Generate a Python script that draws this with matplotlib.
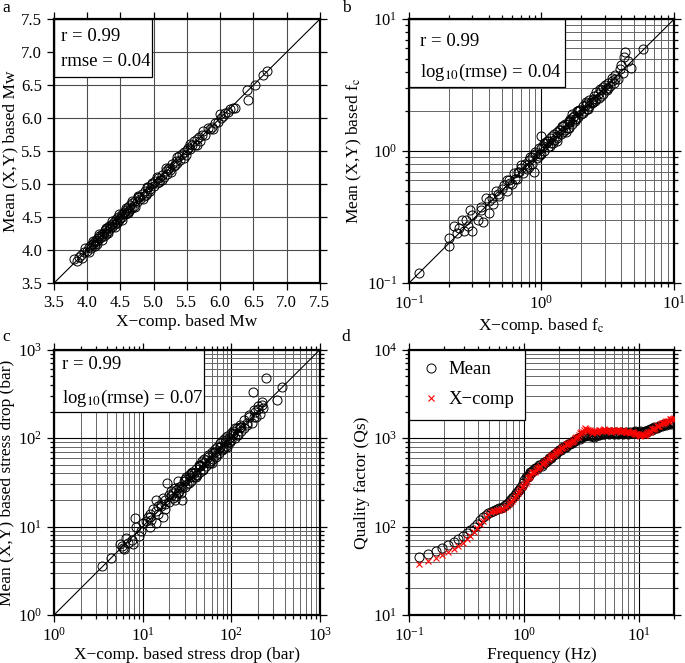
import matplotlib
matplotlib.use("Agg")
import matplotlib.pyplot as plt
from matplotlib.patches import Rectangle
from matplotlib.ticker import MultipleLocator, LogLocator, NullFormatter

plt.rcParams['font.family'] = ['Liberation Serif', 'DejaVu Serif']
plt.rcParams['mathtext.fontset'] = 'stix'

# (a) moment magnitude: X-comp vs mean(X,Y)
mw_x = [3.80, 3.85, 3.88, 3.90, 3.95, 3.97, 4.00, 4.02, 4.05, 4.08,
        4.10, 4.12, 4.13, 4.15, 4.17, 4.18, 4.20, 4.22, 4.23, 4.25,
        4.27, 4.28, 4.30, 4.32, 4.33, 4.35, 4.37, 4.38, 4.40, 4.42,
        4.43, 4.45, 4.47, 4.48, 4.50, 4.52, 4.53, 4.55, 4.57, 4.58,
        4.60, 4.62, 4.63, 4.65, 4.67, 4.68, 4.70, 4.72, 4.75, 4.77,
        4.80, 4.82, 4.85, 4.87, 4.90, 4.92, 4.95, 4.97, 5.00, 5.02,
        5.05, 5.07, 5.10, 5.12, 5.15, 5.18, 5.20, 5.23, 5.25, 5.28,
        5.30, 5.33, 5.35, 5.38, 5.40, 5.45, 5.48, 5.50, 5.55, 5.58,
        5.62, 5.65, 5.70, 5.73, 5.78, 5.82, 5.88, 5.92, 5.97, 6.02,
        6.05, 6.08, 6.12, 6.20, 6.22, 6.40, 6.42, 6.52, 6.65, 6.70,
        3.92, 4.05, 4.15, 4.25, 4.35, 4.45, 4.55, 4.65, 4.78, 4.88,
        4.98, 5.08, 5.22, 5.32, 5.42, 5.52, 5.60, 5.68, 5.85, 6.15,
        4.02, 4.08, 4.12, 4.18, 4.22, 4.28, 4.32, 4.38, 4.42, 4.48,
        4.52, 4.58, 4.62, 4.68, 4.72, 4.76, 4.84, 4.90, 4.95, 5.05,
        5.12, 5.18, 5.26, 5.35, 5.45, 5.55, 5.66, 5.75, 5.90, 6.00]
mw_y = [3.86, 3.84, 3.90, 3.93, 3.97, 4.03, 3.98, 4.05, 4.03, 4.10,
        4.12, 4.09, 4.16, 4.14, 4.19, 4.22, 4.18, 4.25, 4.21, 4.26,
        4.30, 4.25, 4.33, 4.29, 4.36, 4.33, 4.40, 4.35, 4.43, 4.39,
        4.47, 4.42, 4.50, 4.46, 4.48, 4.55, 4.50, 4.58, 4.54, 4.61,
        4.57, 4.65, 4.60, 4.68, 4.64, 4.71, 4.67, 4.75, 4.73, 4.80,
        4.77, 4.85, 4.82, 4.89, 4.87, 4.95, 4.92, 5.00, 4.97, 5.05,
        5.01, 5.09, 5.06, 5.14, 5.11, 5.20, 5.16, 5.25, 5.21, 5.31,
        5.27, 5.35, 5.32, 5.42, 5.37, 5.48, 5.44, 5.52, 5.53, 5.60,
        5.59, 5.68, 5.66, 5.75, 5.74, 5.85, 5.86, 5.92, 5.94, 6.00,
        6.04, 6.08, 6.10, 6.16, 6.15, 6.42, 6.28, 6.50, 6.65, 6.72,
        3.88, 4.07, 4.10, 4.22, 4.37, 4.41, 4.56, 4.62, 4.81, 4.84,
        5.02, 5.04, 5.23, 5.29, 5.45, 5.55, 5.65, 5.72, 5.83, 6.14,
        3.97, 4.14, 4.06, 4.24, 4.15, 4.34, 4.26, 4.44, 4.35, 4.54,
        4.46, 4.64, 4.56, 4.74, 4.66, 4.82, 4.78, 4.96, 4.89, 5.11,
        5.06, 5.24, 5.19, 5.41, 5.39, 5.61, 5.60, 5.81, 5.84, 6.06]

# (b) corner frequency
fc_x = [0.12, 0.20, 0.20, 0.22, 0.23, 0.25, 0.26, 0.28, 0.29, 0.30,
        0.30, 0.33, 0.35, 0.36, 0.38, 0.40, 0.40, 0.43, 0.45, 0.47,
        0.50, 0.52, 0.55, 0.57, 0.60, 0.62, 0.65, 0.68, 0.70, 0.72,
        0.75, 0.78, 0.80, 0.82, 0.85, 0.88, 0.90, 0.92, 0.95, 0.98,
        1.00, 1.00, 1.05, 1.08, 1.10, 1.12, 1.15, 1.18, 1.20, 1.25,
        1.30, 1.32, 1.35, 1.40, 1.45, 1.50, 1.55, 1.60, 1.65, 1.70,
        1.75, 1.80, 1.85, 1.90, 1.95, 2.00, 2.05, 2.10, 2.20, 2.25,
        2.30, 2.40, 2.50, 2.55, 2.60, 2.70, 2.80, 2.90, 3.00, 3.10,
        3.20, 3.30, 3.40, 3.50, 3.60, 3.80, 4.00, 4.10, 4.20, 4.30,
        4.50, 4.70, 5.80, 1.50, 1.60, 2.20, 1.30, 0.95, 1.70, 2.80,
        0.85, 1.02, 1.15, 1.25, 1.45, 1.65, 1.90, 2.15, 2.45, 2.75,
        0.58, 0.66, 0.78, 1.38, 1.58, 1.78, 2.35, 2.65, 3.05, 3.40,
        0.70, 0.80, 0.90, 1.00, 1.05, 1.12, 1.22, 1.30, 1.42, 1.52,
        1.62, 1.72, 1.82, 1.92, 2.05, 2.18, 2.30, 2.45, 2.60, 2.90,
        3.20, 3.60, 3.90, 0.48, 0.42, 0.35, 0.27, 0.24, 0.55, 0.63]
fc_y = [0.12, 0.19, 0.22, 0.27, 0.24, 0.30, 0.25, 0.27, 0.36, 0.25,
        0.33, 0.30, 0.38, 0.29, 0.44, 0.42, 0.34, 0.40, 0.50, 0.47,
        0.52, 0.55, 0.50, 0.60, 0.56, 0.68, 0.62, 0.70, 0.75, 0.68,
        0.80, 0.73, 0.85, 0.90, 0.80, 0.70, 0.95, 0.88, 1.05, 0.95,
        1.30, 1.05, 1.00, 1.15, 1.20, 1.08, 1.25, 1.15, 1.30, 1.22,
        1.40, 1.25, 1.45, 1.35, 1.55, 1.45, 1.60, 1.50, 1.75, 1.60,
        1.85, 1.70, 2.00, 1.80, 2.05, 1.90, 2.20, 2.00, 2.30, 2.10,
        2.45, 2.30, 2.60, 2.40, 2.80, 2.55, 2.90, 2.70, 3.20, 2.90,
        3.30, 3.10, 3.60, 3.30, 3.80, 3.50, 4.50, 3.90, 5.20, 5.60,
        4.80, 4.30, 5.90, 1.60, 1.70, 2.10, 1.20, 0.92, 1.90, 2.60,
        0.90, 1.10, 1.10, 1.35, 1.40, 1.70, 2.00, 2.25, 2.35, 2.95,
        0.57, 0.70, 0.78, 1.45, 1.50, 1.75, 2.35, 2.70, 2.95, 3.40,
        0.78, 0.76, 0.98, 0.96, 1.15, 1.20, 1.15, 1.30, 1.55, 1.40,
        1.65, 1.80, 1.75, 2.05, 1.95, 2.35, 2.20, 2.50, 2.50, 3.05,
        3.00, 3.55, 4.20, 0.46, 0.44, 0.36, 0.30, 0.26, 0.60, 0.62]

# (c) stress drop (bar)
sd_x = [3.5, 4.4, 5.5, 5.8, 6.0, 6.2, 6.5, 6.8, 7.5, 7.8,
        8.5, 8.3, 9.0, 10, 11, 11.5, 12, 12.5, 13, 14,
        14, 15, 16, 17, 17, 18, 19, 20, 20, 21,
        22, 23, 24, 25, 26, 27, 28, 29, 30, 31,
        32, 33, 35, 36, 38, 40, 41, 43, 45, 47,
        48, 50, 52, 55, 57, 60, 62, 65, 68, 70,
        72, 75, 78, 80, 83, 85, 88, 90, 95, 100,
        100, 105, 110, 115, 120, 125, 130, 140, 150, 160,
        170, 175, 180, 190, 200, 210, 220, 230, 250, 330,
        370, 12, 40, 60, 90, 25, 35, 55, 110, 14,
        16, 22, 28, 34, 45, 58, 75, 95, 130, 180,
        9.5, 18, 26, 38, 50, 66, 85, 105, 150, 200,
        18, 21, 24, 27, 30, 33, 36, 40, 44, 48,
        52, 56, 62, 68, 74, 80, 88, 96, 105, 115,
        125, 140, 160, 185, 220, 12, 15, 23, 30, 45]
sd_y = [3.6, 4.4, 6.3, 6.0, 5.8, 5.6, 7.5, 6.5, 7.0, 6.3,
        10.0, 12.5, 7.8, 11, 11.5, 13, 14, 12, 16, 15,
        20, 14, 18, 21, 13, 20, 31, 19, 23, 25,
        21, 27, 22, 33, 25, 29, 20, 33, 28, 36,
        30, 38, 33, 42, 36, 45, 38, 50, 42, 55,
        45, 58, 48, 62, 53, 70, 58, 75, 64, 80,
        68, 88, 73, 95, 78, 100, 82, 105, 90, 115,
        95, 120, 100, 130, 110, 140, 120, 160, 140, 185,
        150, 330, 210, 175, 230, 190, 260, 220, 480, 270,
        380, 10, 36, 52, 80, 24, 40, 65, 130, 11,
        17, 24, 27, 36, 48, 55, 80, 100, 135, 175,
        9.0, 18, 28, 40, 52, 70, 90, 112, 150, 215,
        16, 22, 26, 24, 33, 31, 40, 38, 48, 44,
        57, 52, 68, 62, 80, 75, 95, 90, 115, 108,
        135, 130, 175, 200, 240, 13, 17, 20, 35, 50]

# (d) Qs vs frequency
freq = [0.122, 0.146, 0.171, 0.195, 0.220, 0.244, 0.269, 0.293, 0.317, 0.342,
        0.366, 0.391, 0.415, 0.439, 0.464, 0.488, 0.513, 0.537, 0.562, 0.586,
        0.610, 0.635, 0.659, 0.684, 0.708, 0.732, 0.757, 0.781, 0.806, 0.830,
        0.854, 0.879, 0.903, 0.928, 0.952, 0.977, 1.00, 1.05, 1.10, 1.15,
        1.20, 1.26, 1.32, 1.38, 1.45, 1.52, 1.60, 1.68, 1.76, 1.85,
        1.94, 2.03, 2.13, 2.24, 2.35, 2.46, 2.58, 2.71, 2.84, 2.98,
        3.13, 3.28, 3.44, 3.61, 3.79, 3.97, 4.17, 4.37, 4.59, 4.81,
        5.05, 5.30, 5.56, 5.83, 6.12, 6.42, 6.73, 7.06, 7.41, 7.78,
        8.16, 8.56, 8.98, 9.42, 9.88, 10.4, 10.9, 11.4, 12.0, 12.6,
        13.2, 13.8, 14.5, 15.2, 16.0, 16.8, 17.6, 18.5, 19.4, 20.0,
        1.03, 1.08, 1.13, 1.18, 1.23, 1.29, 1.35, 1.42, 1.49, 1.56,
        1.64, 1.72, 1.81, 1.90, 1.99, 2.08, 2.19, 2.30, 2.41, 2.52,
        2.65, 2.78, 2.91, 3.05, 3.21, 3.36, 3.53, 3.70, 3.88, 4.07,
        4.27, 4.48, 4.70, 4.93, 5.18, 5.43, 5.70, 5.98, 6.27, 6.58,
        6.90, 7.24, 7.60, 7.97, 8.36, 8.77, 9.20, 9.65, 10.1, 10.6,
        11.1, 11.7, 12.3, 12.9, 13.5, 14.2, 14.9, 15.6, 16.4, 17.2,
        18.0, 18.9, 19.7]
q_mean = [45, 49, 53, 58, 62, 67, 72, 78, 84, 91,
          99, 108, 118, 127, 135, 142, 148, 152, 155, 158,
          161, 164, 168, 174, 181, 190, 199, 208, 218, 228,
          239, 250, 262, 275, 290, 310, 335, 360, 385, 410,
          435, 455, 475, 495, 515, 540, 570, 600, 630, 665,
          700, 735, 770, 800, 830, 860, 890, 930, 970, 1000,
          1040, 1070, 1090, 1090, 1080, 1070, 1080, 1100, 1120, 1130,
          1140, 1150, 1150, 1140, 1140, 1150, 1160, 1160, 1150, 1140,
          1150, 1160, 1170, 1180, 1180, 1170, 1180, 1200, 1230, 1260,
          1290, 1320, 1350, 1380, 1410, 1440, 1460, 1480, 1500, 1520,
          365, 360, 410, 415, 460, 450, 500, 490, 545, 540,
          600, 600, 665, 665, 735, 735, 800, 800, 860, 860,
          930, 920, 1010, 990, 1080, 1060, 1110, 1050, 1090, 1040,
          1120, 1090, 1150, 1110, 1180, 1120, 1170, 1110, 1170, 1130,
          1190, 1130, 1170, 1120, 1180, 1140, 1200, 1150, 1200, 1150,
          1220, 1190, 1270, 1250, 1330, 1310, 1390, 1370, 1450, 1420,
          1500, 1460, 1540]
q_xcomp = [38, 41, 44, 48, 52, 56, 61, 66, 72, 79,
           87, 96, 106, 117, 128, 138, 145, 149, 152, 154,
           155, 157, 160, 165, 171, 179, 188, 197, 207, 217,
           227, 238, 250, 263, 277, 290, 300, 330, 360, 390,
           415, 440, 465, 490, 515, 545, 575, 605, 640, 675,
           710, 745, 780, 820, 850, 880, 910, 960, 1020, 1100,
           1180, 1250, 1280, 1240, 1200, 1180, 1190, 1210, 1230, 1240,
           1240, 1230, 1220, 1210, 1220, 1230, 1220, 1210, 1200, 1190,
           1180, 1170, 1150, 1120, 1100, 1090, 1100, 1130, 1170, 1220,
           1270, 1320, 1380, 1430, 1480, 1530, 1580, 1630, 1670, 1700,
           315, 355, 370, 410, 420, 460, 470, 510, 520, 570,
           580, 630, 650, 700, 720, 770, 790, 850, 860, 910,
           920, 1010, 1040, 1160, 1180, 1300, 1230, 1250, 1160, 1220,
           1170, 1250, 1200, 1270, 1210, 1250, 1190, 1240, 1200, 1250,
           1190, 1230, 1170, 1210, 1150, 1180, 1110, 1130, 1070, 1110,
           1090, 1160, 1170, 1260, 1270, 1370, 1380, 1470, 1480, 1570,
           1580, 1670, 1660]

FS_TICK = 12
FS_LAB = 12.5
FS_BOX = 13.5

fig = plt.figure(figsize=(6.85, 6.63), dpi=100)
ax_a = fig.add_axes([0.0788, 0.573, 0.388, 0.398])
ax_b = fig.add_axes([0.597, 0.573, 0.387, 0.398])
ax_c = fig.add_axes([0.0788, 0.0724, 0.388, 0.400])
ax_d = fig.add_axes([0.597, 0.0724, 0.387, 0.400])


def style(ax):
    ax.set_axisbelow(True)
    for s in ax.spines.values():
        s.set_linewidth(1.6)
    ax.tick_params(which='both', direction='out', top=True, right=True,
                   labelsize=FS_TICK, width=0.9)
    ax.tick_params(which='major', length=5)
    ax.tick_params(which='minor', length=3)


def log_grid(ax):
    ax.grid(which='major', color='k', lw=0.8)
    ax.grid(which='minor', color='0.4', lw=0.7)
    for axis in (ax.xaxis, ax.yaxis):
        axis.set_minor_locator(LogLocator(base=10, subs=range(2, 10)))
        axis.set_minor_formatter(NullFormatter())


def box(ax, w, h):
    ax.add_patch(Rectangle((0, 1 - h), w, h, transform=ax.transAxes,
                           fc='white', ec='k', lw=0.9, zorder=1))


# a
ax = ax_a
ax.plot([3.5, 7.5], [3.5, 7.5], color='k', lw=0.8, zorder=2)
ax.plot(mw_x, mw_y, 'o', mfc='none', mec='k', ms=6.5, mew=0.7, ls='none', zorder=3)
ax.set_xlim(3.5, 7.5)
ax.set_ylim(3.5, 7.5)
ax.xaxis.set_major_locator(MultipleLocator(0.5))
ax.yaxis.set_major_locator(MultipleLocator(0.5))
ax.grid(which='major', color='0.3', lw=0.8)
style(ax)
box(ax, 0.368, 0.22)
ax.text(0.026, 0.936, 'r = 0.99', transform=ax.transAxes, fontsize=FS_BOX, va='center', zorder=4)
ax.text(0.026, 0.838, 'rmse = 0.04', transform=ax.transAxes, fontsize=FS_BOX, va='center', zorder=4)
ax.set_xlabel('X\u2212comp. based Mw', fontsize=FS_LAB, labelpad=2)
ax.set_ylabel('Mean (X,Y) based Mw', fontsize=FS_LAB, labelpad=2)

# b
ax = ax_b
ax.set_xscale('log')
ax.set_yscale('log')
ax.plot([0.1, 10], [0.1, 10], color='k', lw=0.8, zorder=2)
ax.plot(fc_x, fc_y, 'o', mfc='none', mec='k', ms=6.5, mew=0.7, ls='none', zorder=3)
ax.set_xlim(0.1, 10)
ax.set_ylim(0.1, 10)
log_grid(ax)
style(ax)
box(ax, 0.589, 0.258)
ax.text(0.04, 0.914, 'r = 0.99', transform=ax.transAxes, fontsize=FS_BOX, va='center', zorder=4)
ax.text(0.04, 0.80, 'log$_{10}$(rmse) = 0.04', transform=ax.transAxes, fontsize=FS_BOX, va='center', zorder=4)
ax.set_xlabel('X\u2212comp. based f$_\\mathrm{c}$', fontsize=FS_LAB, labelpad=2)
ax.set_ylabel('Mean (X,Y) based f$_\\mathrm{c}$', fontsize=FS_LAB, labelpad=2)

# c
ax = ax_c
ax.set_xscale('log')
ax.set_yscale('log')
ax.plot([1, 1000], [1, 1000], color='k', lw=0.8, zorder=2)
ax.plot(sd_x, sd_y, 'o', mfc='none', mec='k', ms=6.5, mew=0.7, ls='none', zorder=3)
ax.set_xlim(1, 1000)
ax.set_ylim(1, 1000)
log_grid(ax)
style(ax)
box(ax, 0.564, 0.234)
ax.text(0.029, 0.943, 'r = 0.99', transform=ax.transAxes, fontsize=FS_BOX, va='center', zorder=4)
ax.text(0.029, 0.818, 'log$_{10}$(rmse) = 0.07', transform=ax.transAxes, fontsize=FS_BOX, va='center', zorder=4)
ax.set_xlabel('X\u2212comp. based stress drop (bar)', fontsize=FS_LAB, labelpad=2)
ax.set_ylabel('Mean (X,Y) based stress drop (bar)', fontsize=FS_LAB, labelpad=2)

# d
ax = ax_d
ax.set_xscale('log')
ax.set_yscale('log')
ax.plot(freq, q_mean, 'o', mfc='none', mec='k', ms=6.5, mew=0.7, ls='none', zorder=3, label='Mean')
ax.plot(freq, q_xcomp, 'x', color='red', ms=5, mew=0.8, ls='none', zorder=4, label='X\u2212comp')
ax.set_xlim(0.1, 20)
ax.set_ylim(10, 1e4)
log_grid(ax)
style(ax)
leg = ax.legend(loc='upper left', borderaxespad=0, fancybox=False, framealpha=1,
                edgecolor='k', fontsize=FS_BOX, handletextpad=0.3, labelspacing=0.7,
                borderpad=0.6, handlelength=1.2)
leg.get_frame().set_linewidth(0.9)
ax.set_xlabel('Frequency (Hz)', fontsize=FS_LAB, labelpad=2)
ax.set_ylabel('Quality factor (Qs)', fontsize=FS_LAB, labelpad=2)

# panel letters
fig.text(0.004, 0.982, 'a', fontsize=FS_LAB)
fig.text(0.499, 0.982, 'b', fontsize=FS_LAB)
fig.text(0.004, 0.486, 'c', fontsize=FS_LAB)
fig.text(0.499, 0.486, 'd', fontsize=FS_LAB)

fig.savefig('out.png', dpi=100)
